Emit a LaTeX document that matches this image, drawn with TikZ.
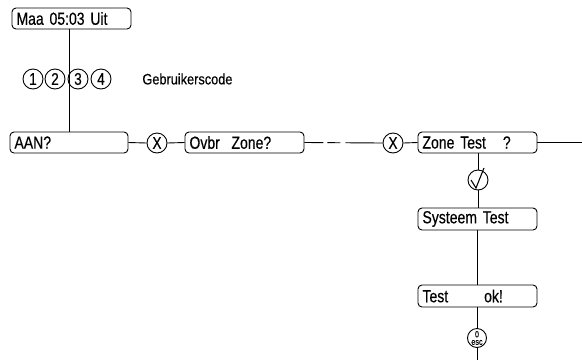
\documentclass[tikz,border=0pt]{standalone}
\usepackage{fontspec}
\setmainfont{Liberation Sans}[FakeStretch=0.8,FakeBold=0.4]
\newfontfamily\labfont{Liberation Sans}[FakeStretch=0.85,FakeBold=0.4]
\begin{document}
\begin{tikzpicture}[x=1pt,y=-1pt,
  line width=0.9pt,
  disp/.style={draw,rounded corners=4pt,minimum height=21pt,text width=110pt,
    inner xsep=4.5pt,inner ysep=0pt,align=left,font=\fontsize{17.5}{18}\selectfont},
  key/.style={draw,circle,minimum size=20pt,inner sep=0pt,font=\fontsize{17}{18}\selectfont},
  dashline/.style={dash pattern=on 19pt off 4pt on 13pt off 5pt on 80pt}]
\useasboundingbox (0,0) rectangle (582,360);
% display boxes
\node[disp] (top) at (71.5,18.5) {Maa 05:03 Uit};
\node[disp,text width=109pt] (aan) at (69,142.5) {AAN?};
\node[disp] (ovbr) at (244.5,142.5) {Ovbr\ \ Zone?};
\node[disp] (zone) at (477.5,142.5) {Zone Test\hspace{17pt}?};
\node[disp,minimum height=22pt] (sys) at (477.5,219) {Systeem Test};
\node[disp,minimum height=22pt] (ok) at (477.5,296) {Test\hspace{36pt}ok!};
% keys
\node[key] (k1) at (33,79) {1};
\node[key] (k2) at (55,79) {2};
\node[key] (k3) at (78,79) {3};
\node[key] (k4) at (101,79) {4};
\node[anchor=west,inner sep=0pt,font=\labfont\fontsize{15}{16}\selectfont] (code) at (142,79) {Gebruikerscode};
\node[key] (x1) at (157,143) {X};
\node[key] (x2) at (393,143) {X};
\node[key] (chk) at (478,180) {};
\draw[line width=1.1pt] (471,180) -- (476,188) -- (484,168);
\node[key,minimum size=19pt,align=center,font=\fontsize{9}{7.5}\selectfont] (esc) at (477,338) {0\\esc};
\coordinate (rend) at (582,142.5);
\coordinate (bend) at (477,360);
% connectors
\draw (aan.north |- top.south) -- (aan.north);
\draw (aan.east) -- (x1.west);
\draw (x1.east) -- (ovbr.west);
\draw[dashline] (ovbr.east) -- (x2.west);
\draw (x2.east) -- (zone.west);
\draw (zone.east) -- (rend);
\draw (chk.north |- zone.south) -- (chk.north);
\draw (chk.south) -- (chk.south |- sys.north);
\draw (esc.north |- sys.south) -- (esc.north |- ok.north);
\draw (esc.north |- ok.south) -- (esc.north);
\draw (esc.south) -- (bend);
\end{tikzpicture}
\end{document}
